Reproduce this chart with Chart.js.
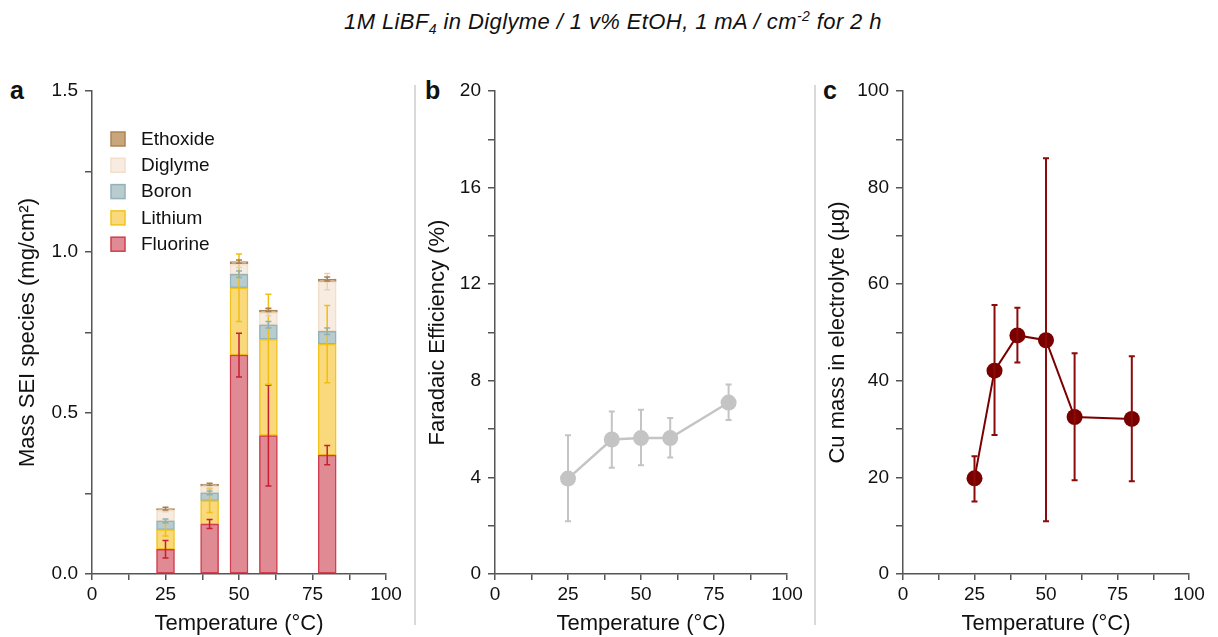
<!DOCTYPE html>
<html>
<head>
<meta charset="utf-8">
<script src="https://cdn.jsdelivr.net/npm/chart.js@4.4.0/dist/chart.umd.min.js"></script>
<style>
  body { margin: 0; background: #fff; }
  #wrap { position: relative; width: 1218px; height: 637px; overflow: hidden;
          font-family: "Liberation Sans", Arial, sans-serif; color: #111; }
  canvas { position: absolute; top: 70px; }
  .lbl { position: absolute; top: 75px; font-weight: bold; font-size: 25px; line-height: 30px; }
  .sep { position: absolute; top: 85px; width: 2px; height: 540px; background: #d9d9d9; }
  #title { position: absolute; top: 9px; left: 0; width: 1226px; text-align: center;
           font-style: italic; font-size: 22px; line-height: 26px; letter-spacing: 0.4px; }
  #title sub, #title sup { font-size: 14px; line-height: 0; }
</style>
</head>
<body>
<div id="wrap">
  <div id="title">1M LiBF<sub>4</sub> in Diglyme / 1 v% EtOH, 1 mA / cm<sup>-2</sup> for 2 h</div>
  <div class="lbl" style="left:10px">a</div>
  <div class="lbl" style="left:425px">b</div>
  <div class="lbl" style="left:823px">c</div>
  <div class="sep" style="left:414px"></div>
  <div class="sep" style="left:814px"></div>
  <canvas id="sei_chart" width="410" height="567" style="left:0px"></canvas>
  <canvas id="fe_chart" width="400" height="567" style="left:410px"></canvas>
  <canvas id="cu_chart" width="408" height="567" style="left:810px"></canvas>
</div>
<script>
// panel a - SEI species (stacked), mg/cm2
var sei_temps = [25, 40, 50, 60, 80];
var fluorine = [0.077, 0.155, 0.680, 0.430, 0.369];
var lithium  = [0.061, 0.073, 0.209, 0.299, 0.345];
var boron    = [0.027, 0.024, 0.042, 0.045, 0.040];
var diglyme  = [0.033, 0.021, 0.031, 0.038, 0.154];
var ethoxide = [0.005, 0.006, 0.008, 0.008, 0.008];
var fluorine_err = [0.027, 0.014, 0.068, 0.157, 0.030];
var lithium_err  = [0.020, 0.037, 0.105, 0.140, 0.120];
var boron_err    = [0.006, 0.006, 0.010, 0.010, 0.010];
var diglyme_err  = [0.005, 0.005, 0.010, 0.010, 0.025];
var ethoxide_err = [0.004, 0.003, 0.005, 0.005, 0.006];

// panel b - faradaic efficiency
var fe_temps = [25, 40, 50, 60, 80];
var fe_vals  = [3.95, 5.57, 5.63, 5.63, 7.10];
var fe_hi    = [5.75, 6.73, 6.80, 6.46, 7.85];
var fe_lo    = [2.18, 4.40, 4.50, 4.82, 6.38];

// panel c - Cu mass in electrolyte
var cu_temps = [25, 32, 40, 50, 60, 80];
var cu_vals  = [19.8, 42.1, 49.4, 48.4, 32.5, 32.1];
var cu_hi    = [24.4, 55.7, 55.1, 86.1, 45.7, 45.1];
var cu_lo    = [15.0, 28.8, 43.8, 10.9, 19.4, 19.2];

var FONT = '"Liberation Sans", Arial, sans-serif';
Chart.defaults.font.family = FONT;
Chart.defaults.color = '#111';
var axis_color = '#555';

function pts(xs, ys) {
  return xs.map(function(x, i) { return {x: x, y: ys[i]}; });
}

// error bars drawn from the scale, deltas above / below each point
var errorBars = {
  id: 'errorBars',
  afterDatasetsDraw: function(chart) {
    var ctx = chart.ctx;
    var yScale = chart.scales.y;
    chart.data.datasets.forEach(function(ds, di) {
      if (!ds.errPlus) return;
      var meta = chart.getDatasetMeta(di);
      ctx.save();
      ctx.strokeStyle = ds.errColor;
      ctx.lineWidth = ds.errWidth || 1.5;
      meta.data.forEach(function(el, i) {
        var v = yScale.getValueForPixel(el.y);
        var top = yScale.getPixelForValue(v + ds.errPlus[i]);
        var bot = yScale.getPixelForValue(v - ds.errMinus[i]);
        var cap = ds.errCap || 3;
        ctx.beginPath();
        ctx.moveTo(el.x, top); ctx.lineTo(el.x, bot);
        ctx.moveTo(el.x - cap, top); ctx.lineTo(el.x + cap, top);
        ctx.moveTo(el.x - cap, bot); ctx.lineTo(el.x + cap, bot);
        ctx.stroke();
      });
      ctx.restore();
    });
  }
};

var seiLegend = {
  id: 'seiLegend',
  afterDraw: function(chart) {
    var ctx = chart.ctx;
    var area = chart.chartArea;
    var items = chart.data.datasets.slice().reverse();
    ctx.save();
    ctx.font = '19px ' + FONT;
    ctx.textBaseline = 'middle';
    items.forEach(function(ds, k) {
      var bx = area.left + 19, by = area.top + 41 + k * 26.3;
      ctx.fillStyle = ds.backgroundColor;
      ctx.fillRect(bx, by, 14, 14);
      ctx.strokeStyle = ds.borderColor;
      ctx.lineWidth = 1.5;
      ctx.strokeRect(bx, by, 14, 14);
      ctx.fillStyle = '#111';
      ctx.fillText(ds.label, bx + 30, by + 7.5);
    });
    ctx.restore();
  }
};

function xAxis() {
  return {
    type: 'linear', min: 0, max: 100, offset: false,
    border: {display: true, color: axis_color, width: 1.5},
    grid: {display: true, offset: false, drawOnChartArea: false, tickLength: 6, color: axis_color, lineWidth: 1.5},
    ticks: {stepSize: 12.5, autoSkip: false, maxRotation: 0, padding: 3, color: '#111', font: {size: 19},
            callback: function(v) { return v % 25 === 0 ? v : ''; }},
    title: {display: true, text: 'Temperature (°C)', color: '#111', font: {size: 22}, padding: {top: 0, bottom: 0}},
    afterFit: function(s) { s.height = 63; }
  };
}

function yAxis(max, step, labelEvery, title, width, fmt) {
  return {
    min: 0, max: max,
    border: {display: true, color: axis_color, width: 1.5},
    grid: {display: true, drawOnChartArea: false, tickLength: 7, color: axis_color, lineWidth: 1.5},
    ticks: {stepSize: step, autoSkip: false, padding: 7, color: '#111', font: {size: 19},
            callback: function(v) {
              var r = v / labelEvery;
              return Math.abs(r - Math.round(r)) < 1e-9 ? fmt(v) : '';
            }},
    title: {display: true, text: title, color: '#111', font: {size: 22}, padding: {top: 15, bottom: 0}},
    afterFit: function(s) { s.width = width; }
  };
}

function barSet(label, vals, errs, fill, border, errColor) {
  return {
    label: label, data: pts(sei_temps, vals), stack: 'sei',
    backgroundColor: fill, borderColor: border, borderWidth: 1.5, borderSkipped: false,
    barThickness: 18, errPlus: errs, errMinus: errs, errColor: errColor
  };
}

new Chart(document.getElementById('sei_chart'), {
  type: 'bar',
  data: {
    datasets: [
      barSet('Fluorine', fluorine, fluorine_err, '#e08a93', '#d23d4f', '#c81e2f'),
      barSet('Lithium', lithium, lithium_err, '#f9d97c', '#f3c31c', '#f0bf10'),
      barSet('Boron', boron, boron_err, '#b8cbcf', '#93b3b9', '#8fb0b5'),
      barSet('Diglyme', diglyme, diglyme_err, '#f8ece0', '#f1dfcc', '#e6d2bc'),
      barSet('Ethoxide', ethoxide, ethoxide_err, '#c9a57c', '#ad8454', '#a87e4e')
    ]
  },
  options: {
    responsive: false, animation: false,
    layout: {padding: {top: 21, right: 24, left: 0, bottom: 0}},
    plugins: {legend: {display: false}, tooltip: {enabled: false}},
    scales: {
      x: xAxis(),
      y: Object.assign(yAxis(1.5, 0.25, 0.5, 'Mass SEI species (mg/cm²)', 92,
                             function(v) { return v.toFixed(1); }), {stacked: true})
    }
  },
  plugins: [errorBars, seiLegend]
});

new Chart(document.getElementById('fe_chart'), {
  type: 'line',
  data: {
    datasets: [{
      label: 'Faradaic Efficiency', data: pts(fe_temps, fe_vals),
      borderColor: '#c4c4c4', backgroundColor: '#c4c4c4', borderWidth: 2.5,
      pointRadius: 8, pointBorderWidth: 0, pointBackgroundColor: '#c4c4c4',
      errPlus: fe_hi.map(function(h, i) { return h - fe_vals[i]; }),
      errMinus: fe_lo.map(function(l, i) { return fe_vals[i] - l; }),
      errColor: '#c4c4c4', errWidth: 2
    }]
  },
  options: {
    responsive: false, animation: false,
    layout: {padding: {top: 21, right: 23, left: 0, bottom: 0}},
    plugins: {legend: {display: false}, tooltip: {enabled: false}},
    scales: {
      x: xAxis(),
      y: yAxis(20, 2, 4, 'Faradaic Efficiency (%)', 85, function(v) { return v; })
    }
  },
  plugins: [errorBars]
});

new Chart(document.getElementById('cu_chart'), {
  type: 'line',
  data: {
    datasets: [{
      label: 'Cu mass', data: pts(cu_temps, cu_vals),
      borderColor: '#7a0000', backgroundColor: '#7a0000', borderWidth: 2,
      pointRadius: 8, pointBorderWidth: 0, pointBackgroundColor: '#7a0000',
      errPlus: cu_hi.map(function(h, i) { return h - cu_vals[i]; }),
      errMinus: cu_lo.map(function(l, i) { return cu_vals[i] - l; }),
      errColor: '#8b0a0a', errWidth: 2
    }]
  },
  options: {
    responsive: false, animation: false,
    layout: {padding: {top: 21, right: 29, left: 0, bottom: 0}},
    plugins: {legend: {display: false}, tooltip: {enabled: false}},
    scales: {
      x: xAxis(),
      y: yAxis(100, 10, 20, 'Cu mass in electrolyte (µg)', 93, function(v) { return v; })
    }
  },
  plugins: [errorBars]
});
</script>
</body>
</html>
